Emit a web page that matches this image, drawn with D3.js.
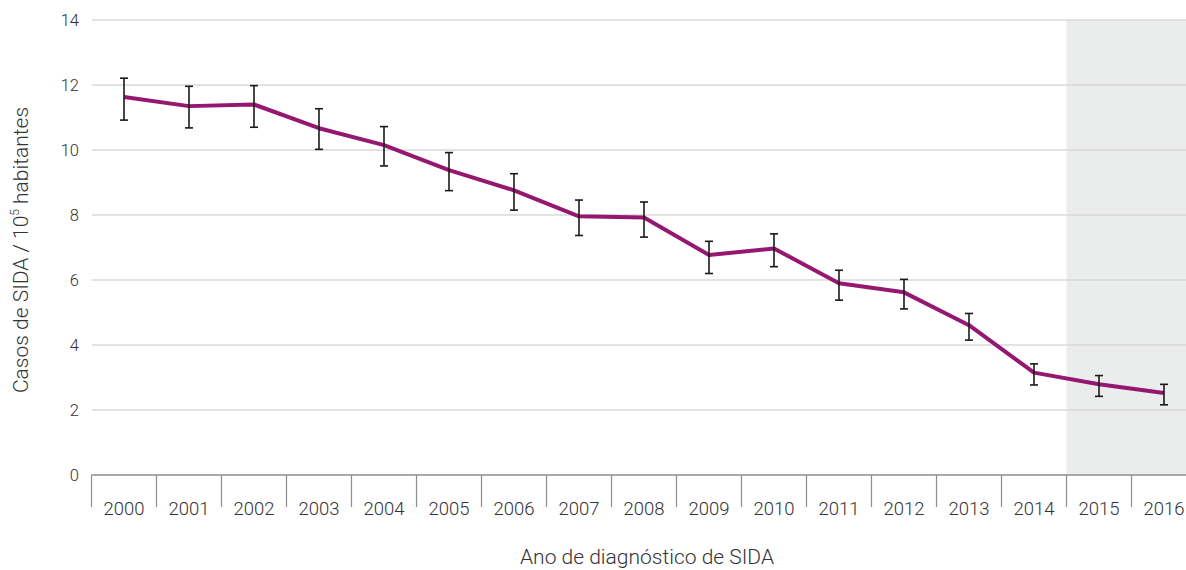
<!DOCTYPE html>
<html>
<head>
<meta charset="utf-8">
<script src="https://cdn.jsdelivr.net/npm/d3@7"></script>
<style>
  html, body { margin: 0; padding: 0; background: #fff; overflow: hidden; }
  svg { display: block; font-family: Roboto, "Liberation Sans", sans-serif; }
</style>
</head>
<body>
<svg id="chart" width="1186" height="570"></svg>
<script>
// AIDS cases per 100 000 inhabitants by year of diagnosis, with confidence intervals
const years = ["2000","2001","2002","2003","2004","2005","2006","2007","2008","2009","2010","2011","2012","2013","2014","2015","2016"];
const rate  = [11.63, 11.35, 11.40, 10.67, 10.15, 9.38, 8.76, 7.96, 7.92, 6.77, 6.97, 5.90, 5.62, 4.61, 3.15, 2.79, 2.52];
const lower = [10.92, 10.68, 10.70, 10.02, 9.51, 8.75, 8.15, 7.37, 7.32, 6.20, 6.41, 5.38, 5.11, 4.15, 2.77, 2.42, 2.16];
const upper = [12.21, 11.96, 11.98, 11.27, 10.72, 9.92, 9.27, 8.46, 8.40, 7.19, 7.42, 6.30, 6.02, 4.97, 3.42, 3.06, 2.79];
const yTicks = [0, 2, 4, 6, 8, 10, 12, 14];
const shadedYears = ["2015", "2016"];

const svg = d3.select("#chart");
const W = 1186;

const x = d3.scaleBand().domain(years).range([91.5, 91.5 + 65 * years.length]).padding(0);
const y = d3.scaleLinear().domain([0, 14]).range([475, 20]);

// shaded band for the most recent years
svg.append("rect")
  .attr("x", x(shadedYears[0]))
  .attr("y", y(14))
  .attr("width", x(shadedYears[shadedYears.length - 1]) + x.bandwidth() - x(shadedYears[0]))
  .attr("height", y(0) - y(14))
  .attr("fill", "#ebecec");

// horizontal gridlines
svg.append("g").selectAll("line")
  .data(yTicks.filter(d => d > 0))
  .join("line")
  .attr("x1", 92).attr("x2", W)
  .attr("y1", d => y(d)).attr("y2", d => y(d))
  .attr("stroke", "#d9d9d9")
  .attr("stroke-width", 1.5);

// y axis labels
const yAxis = svg.append("g")
  .attr("transform", "translate(79,0)")
  .call(d3.axisLeft(y).tickValues(yTicks).tickSize(0).tickPadding(0).tickFormat(d3.format("d")));
yAxis.select(".domain").remove();
yAxis.selectAll("text")
  .attr("font-family", "Roboto, sans-serif")
  .attr("font-weight", 300)
  .attr("font-size", 16.5)
  .attr("fill", "#333");

// x axis: baseline, boundary ticks and year labels
svg.append("line")
  .attr("x1", 91.5).attr("x2", W)
  .attr("y1", y(0)).attr("y2", y(0))
  .attr("stroke", "#8c8c8c").attr("stroke-width", 1.5);

svg.append("g").selectAll("line")
  .data(years)
  .join("line")
  .attr("x1", d => x(d)).attr("x2", d => x(d))
  .attr("y1", y(0)).attr("y2", y(0) + 32)
  .attr("stroke", "#8c8c8c").attr("stroke-width", 1.2);

const xAxis = svg.append("g")
  .attr("transform", `translate(0,${y(0)})`)
  .call(d3.axisBottom(x).tickSize(0).tickPadding(27));
xAxis.select(".domain").remove();
xAxis.selectAll("text")
  .attr("font-family", "Roboto, sans-serif")
  .attr("font-weight", 300)
  .attr("font-size", 18.5)
  .attr("fill", "#333");

// axis titles
svg.append("text")
  .attr("x", 647).attr("y", 564)
  .attr("text-anchor", "middle")
  .attr("font-weight", 300)
  .attr("font-size", 21)
  .attr("fill", "#333")
  .text("Ano de diagnóstico de SIDA");

const yTitle = svg.append("text")
  .attr("transform", "translate(28,250) rotate(-90)")
  .attr("text-anchor", "middle")
  .attr("font-weight", 300)
  .attr("font-size", 21)
  .attr("fill", "#333");
yTitle.append("tspan").text("Casos de SIDA / 10");
yTitle.append("tspan").attr("font-size", 12).attr("dy", -9).text("5");
yTitle.append("tspan").attr("dy", 9).text(" habitantes");

const cx = d => x(d) + x.bandwidth() / 2;
const rows = years.map((yr, i) => ({ yr, v: rate[i], lo: lower[i], hi: upper[i] }));

// trend line
svg.append("path")
  .datum(rows)
  .attr("fill", "none")
  .attr("stroke", "#951870")
  .attr("stroke-width", 4)
  .attr("stroke-linejoin", "round")
  .attr("d", d3.line().x(d => cx(d.yr)).y(d => y(d.v)));

// confidence interval whiskers
const eb = svg.append("g").attr("stroke", "#1a1a1a").attr("stroke-width", 1.6);
eb.selectAll("line.v").data(rows).join("line").attr("class", "v")
  .attr("x1", d => cx(d.yr)).attr("x2", d => cx(d.yr))
  .attr("y1", d => y(d.hi)).attr("y2", d => y(d.lo));
eb.selectAll("line.t").data(rows).join("line").attr("class", "t")
  .attr("x1", d => cx(d.yr) - 4).attr("x2", d => cx(d.yr) + 4)
  .attr("y1", d => y(d.hi)).attr("y2", d => y(d.hi));
eb.selectAll("line.b").data(rows).join("line").attr("class", "b")
  .attr("x1", d => cx(d.yr) - 4).attr("x2", d => cx(d.yr) + 4)
  .attr("y1", d => y(d.lo)).attr("y2", d => y(d.lo));
</script>
</body>
</html>
